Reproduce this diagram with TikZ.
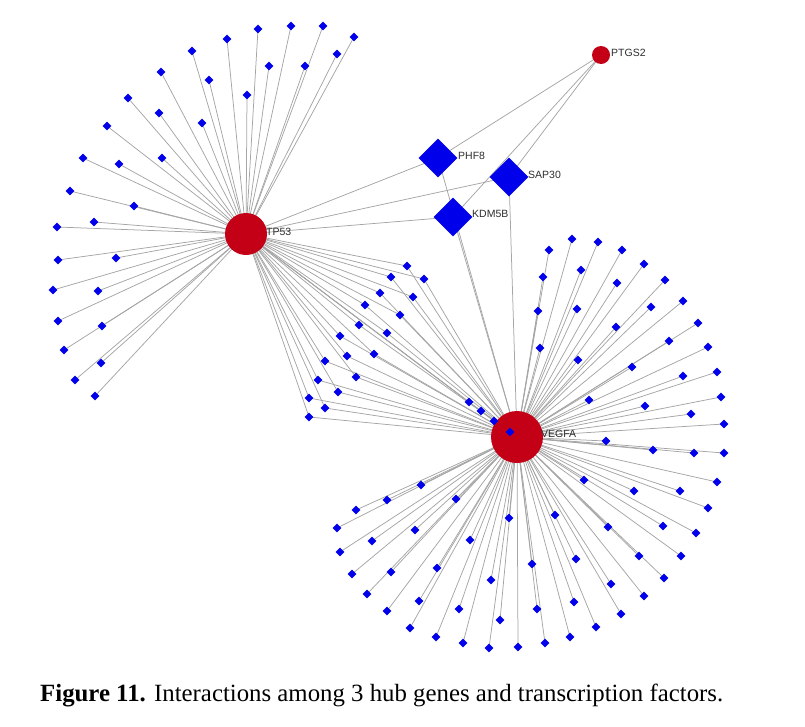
\documentclass[tikz,border=0pt]{standalone}
\usepackage{fontspec}
\setmainfont{Liberation Serif}
\newfontfamily\labfont{Liberation Sans}
\usetikzlibrary{shapes.geometric,backgrounds}
\definecolor{hubred}{RGB}{195,0,22}
\definecolor{tfblue}{RGB}{0,0,235}
\definecolor{edgegray}{RGB}{165,165,165}
\definecolor{labgray}{RGB}{45,45,45}
\begin{document}
\begin{tikzpicture}[x=1pt,y=-1pt]
\tikzset{
  sat/.style={diamond, fill=tfblue, inner sep=0pt, minimum size=9pt},
  bigtf/.style={diamond, fill=tfblue, inner sep=0pt, minimum size=39pt},
  hub/.style={circle, fill=hubred, inner sep=0pt},
  edge/.style={draw=edgegray, line width=0.75pt},
  lab/.style={font=\labfont\fontsize{10.5}{12}\selectfont, text=labgray, anchor=west, inner sep=0pt},
}
\useasboundingbox (0,0) rectangle (805,726);
% hubs
\node[hub, minimum size=42pt] (tp) at (246,234) {};
\node[hub, minimum size=52pt] (vegfa) at (517,437) {};
\node[hub, minimum size=18pt] (ptgs) at (601,55) {};
\node[bigtf] (phf) at (438,158) {};
\node[bigtf] (sap) at (509,177) {};
\node[bigtf] (kdm) at (453,217) {};
\node[sat] (v0) at (510,432) {};
% labels
\node[lab] (ltp) at (266,232) {TP53};
\node[lab] (lvegfa) at (541,434) {VEGFA};
\node[lab] (lptgs) at (611,53) {PTGS2};
\node[lab] (lphf) at (458,156) {PHF8};
\node[lab] (lsap) at (528,175) {SAP30};
\node[lab] (lkdm) at (472,214) {KDM5B};
% TP53 satellites
\foreach \x/\y [count=\i] in {354/37,323/26,291/26,258/29,227/39,192/51,161/72,128/98,107/126,83/158,70/191,337/54,305/66,269/66,209/80,247/95,159/113,202/123,162/158,119/164,134/206,57/227,94/222,58/260,116/258,53/290,98/291,58/321,102/326,64/350,101/363,75/380,95/396}
  {\node[sat] (t\i) at (\x,\y) {};}
% shared satellites
\foreach \x/\y [count=\i] in {407/266,391/277,424/279,380/293,413/297,365/305,400/315,359/325,387/333,340/336,347/356,374/354,325/361,356/377,318/380,338/392,309/398,325/408,309/417,469/402,481/411,494/421}
  {\node[sat] (s\i) at (\x,\y) {};}
% VEGFA satellites
\foreach \x/\y [count=\i] in {572/239,598/242,549/250,622/250,644/264,581/270,543/277,617/283,665/280,683/301,651/307,538/311,577/309,616/327,698/323,669/341,708/347,540/348,578/360,632/367,717/372,683/376,721/397,589/400,645/406,691/414,724/424,606/441,653/450,694/453,724/453,717/482,584/480,634/491,680/491,708/508,421/485,387/500,356/510,456/499,337/528,509/518,555/515,415/530,372/541,663/526,608/527,696/533,470/540,340/552,576/559,639/556,681/556,352/574,391/572,437/568,532/564,664/578,611/584,491/580,367/594,644/596,419/601,387/611,459/609,537/609,574/602,621/614,500/620,410/628,596/627,436/637,570/637,463/643,489/648,518/647,545/643}
  {\node[sat] (v\i) at (\x,\y) {};}
% edges
\begin{scope}[on background layer]
  \foreach \i in {1,...,33} {\draw[edge] (tp.center) -- (t\i.center);}
  \foreach \i in {1,...,22} {\draw[edge] (tp.center) -- (s\i.center); \draw[edge] (vegfa.center) -- (s\i.center);}
  \foreach \i in {1,...,77} {\draw[edge] (vegfa.center) -- (v\i.center);}
  \draw[edge] (vegfa.center) -- (v0.center);
  \draw[edge] (tp.center) -- (phf.center);
  \draw[edge] (tp.center) -- (sap.center);
  \draw[edge] (tp.center) -- (kdm.center);
  \draw[edge] (ptgs.center) -- (phf.center);
  \draw[edge] (ptgs.center) -- (sap.center);
  \draw[edge] (ptgs.center) -- (kdm.center);
  \draw[edge] (phf.center) -- (vegfa.center);
  \draw[edge] (kdm.center) -- (vegfa.center);
  \draw[edge] (sap.center) -- (vegfa.center);
\end{scope}
% caption
\node[anchor=base west, inner sep=0pt] (cap) at (40,701)
  {\resizebox{683pt}{!}{\fontsize{20}{24}\selectfont\textbf{Figure 11.} Interactions among 3 hub genes and transcription factors.}};
\end{tikzpicture}
\end{document}
